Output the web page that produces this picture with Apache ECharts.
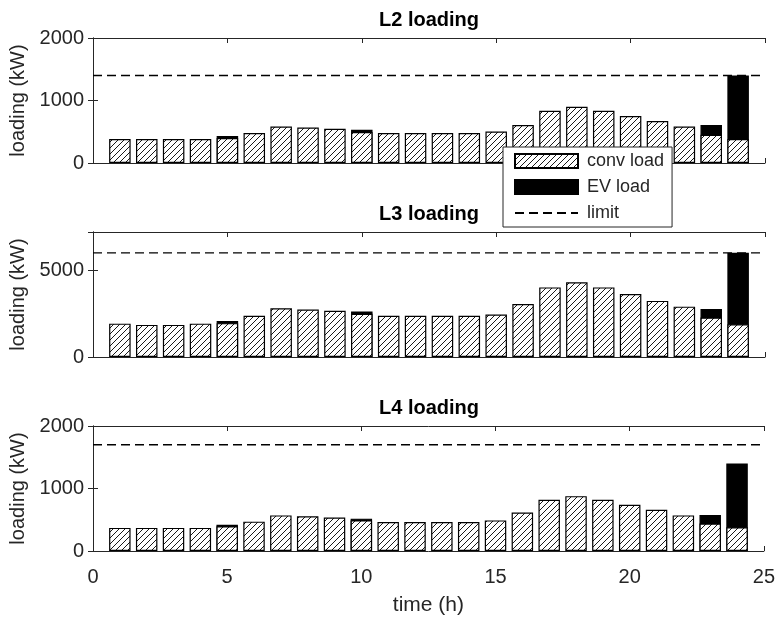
<!DOCTYPE html>
<html>
<head>
<meta charset="utf-8">
<title>Feeder loading</title>
<script src="https://cdn.jsdelivr.net/npm/echarts@6/dist/echarts.min.js"></script>
<style>
  html, body { margin: 0; padding: 0; background: #ffffff; }
  #chart { width: 778px; height: 620px; }
</style>
</head>
<body>
<div id="chart"></div>
<script>
// Hourly loading per feeder (kW): conventional load with EV charging on top
const hours = [1, 2, 3, 4, 5, 6, 7, 8, 9, 10, 11, 12, 13, 14, 15, 16, 17, 18, 19, 20, 21, 22, 23, 24];

const l2Conv = [383, 383, 383, 383, 399, 479, 585, 569, 548, 495, 479, 479, 479, 479, 505, 606, 835, 899, 835, 750, 670, 585, 452, 383];
const l2EV   = [0, 0, 0, 0, 32, 0, 0, 0, 0, 37, 0, 0, 0, 0, 0, 0, 0, 0, 0, 0, 0, 0, 154, 1017];
const l2Limit = 1400;

const l3Conv = [1920, 1850, 1850, 1920, 1950, 2370, 2810, 2730, 2660, 2490, 2370, 2370, 2370, 2370, 2450, 3050, 4010, 4300, 4010, 3630, 3230, 2900, 2270, 1890];
const l3EV   = [0, 0, 0, 0, 130, 0, 0, 0, 0, 130, 0, 0, 0, 0, 0, 0, 0, 0, 0, 0, 0, 0, 500, 4110];
const l3Limit = 6000;

const l4Conv = [370, 370, 370, 370, 395, 470, 570, 555, 535, 490, 465, 465, 465, 465, 490, 615, 820, 878, 820, 740, 660, 570, 440, 380];
const l4EV   = [0, 0, 0, 0, 25, 0, 0, 0, 0, 28, 0, 0, 0, 0, 0, 0, 0, 0, 0, 0, 0, 0, 137, 1020];
const l4Limit = 1700;

const panelTitles = ['L2 loading', 'L3 loading', 'L4 loading'];
const yMax = [2000, 7200, 2000];
const yStep = [1000, 5000, 1000];
const xMin = 0, xMax = 25, xStep = 5;

const panels = [
  { conv: l2Conv, ev: l2EV, limit: l2Limit },
  { conv: l3Conv, ev: l3EV, limit: l3Limit },
  { conv: l4Conv, ev: l4EV, limit: l4Limit }
];

const FONT = "'Liberation Sans', Arial, Helvetica, sans-serif";
const AXIS_COLOR = '#262626';

// diagonal hatch tile used as the fill of the conventional-load bars
function hatchTile() {
  const s = 6;
  const c = document.createElement('canvas');
  c.width = s; c.height = s;
  const g = c.getContext('2d');
  g.fillStyle = '#ffffff';
  g.fillRect(0, 0, s, s);
  g.strokeStyle = '#1a1a1a';
  g.lineWidth = 1;
  g.beginPath();
  g.moveTo(-1, s + 1); g.lineTo(s + 1, -1);
  g.moveTo(-1, 1); g.lineTo(1, -1);
  g.moveTo(s - 1, s + 1); g.lineTo(s + 1, s - 1);
  g.stroke();
  return c;
}
const hatchFill = { image: hatchTile(), repeat: 'repeat' };

const gridTops = [38, 232, 426];
const grids = gridTops.map(t => ({ left: 93, right: 13, top: t, height: 125, containLabel: false }));

const titles = panelTitles.map((txt, i) => ({
  text: txt,
  left: 429,
  top: gridTops[i] - 28,
  padding: 0,
  textAlign: 'center',
  textStyle: { fontFamily: FONT, fontSize: 20, fontWeight: 'bold', color: '#000' }
}));

const plainNumber = v => String(v);

const xAxes = [];
const yAxes = [];
panels.forEach((p, i) => {
  const lastPanel = i === panels.length - 1;
  const common = {
    gridIndex: i, type: 'value', min: xMin, max: xMax, interval: xStep,
    axisLine: { show: true, onZero: false, lineStyle: { color: AXIS_COLOR, width: 1 } },
    axisTick: { show: true, inside: true, length: 5, lineStyle: { color: AXIS_COLOR } },
    splitLine: { show: false }
  };
  xAxes.push(Object.assign({}, common, {
    position: 'bottom',
    name: lastPanel ? 'time (h)' : '',
    nameLocation: 'middle',
    nameGap: 44,
    nameTextStyle: { fontFamily: FONT, fontSize: 21, color: AXIS_COLOR },
    axisLabel: { show: lastPanel, margin: 16, fontFamily: FONT, fontSize: 20, color: AXIS_COLOR, formatter: plainNumber }
  }));
  xAxes.push(Object.assign({}, common, {
    position: 'top',
    axisLabel: { show: false }
  }));

  const yCommon = {
    gridIndex: i, type: 'value', min: 0, max: yMax[i], interval: yStep[i],
    axisLine: { show: true, lineStyle: { color: AXIS_COLOR, width: 1 } },
    axisTick: { show: true, inside: true, length: 5, lineStyle: { color: AXIS_COLOR } },
    splitLine: { show: false }
  };
  yAxes.push(Object.assign({}, yCommon, {
    position: 'left',
    name: 'loading (kW)',
    nameLocation: 'middle',
    nameGap: 54,
    nameTextStyle: { fontFamily: FONT, fontSize: 20, color: AXIS_COLOR },
    axisLabel: {
      margin: 9, fontFamily: FONT, fontSize: 20, color: AXIS_COLOR,
      formatter: plainNumber,
      showMaxLabel: yMax[i] % yStep[i] === 0
    }
  }));
  yAxes.push(Object.assign({}, yCommon, {
    position: 'right',
    axisLabel: { show: false }
  }));
});

// total height (conv + EV) drawn in black, conventional part overlaid with hatching
const series = [];
panels.forEach((p, i) => {
  series.push({
    name: 'EV load', type: 'bar',
    xAxisIndex: 2 * i, yAxisIndex: 2 * i,
    barWidth: '80%', barGap: '-100%',
    itemStyle: { color: '#000', borderColor: '#000', borderWidth: 1.2 },
    emphasis: { disabled: true },
    data: hours.map((h, k) => [h, p.ev[k] > 0 ? p.conv[k] + p.ev[k] : '-'])
  });
  series.push({
    name: 'conv load', type: 'bar',
    xAxisIndex: 2 * i, yAxisIndex: 2 * i,
    barWidth: '80%', barGap: '-100%',
    itemStyle: { color: hatchFill, borderColor: '#000', borderWidth: 1.2 },
    emphasis: { disabled: true },
    data: hours.map((h, k) => [h, p.conv[k]])
  });
  series.push({
    name: 'limit', type: 'line',
    xAxisIndex: 2 * i, yAxisIndex: 2 * i,
    symbol: 'none', silent: true,
    itemStyle: { color: '#000' },
    lineStyle: { color: '#000', width: 1.3, type: [9, 5] },
    data: [[xMin, p.limit], [xMax, p.limit]]
  });
});

const chart = echarts.init(document.getElementById('chart'), null, { renderer: 'canvas' });
chart.setOption({
  animation: false,
  backgroundColor: '#ffffff',
  textStyle: { fontFamily: FONT },
  title: titles,
  grid: grids,
  xAxis: xAxes,
  yAxis: yAxes,
  legend: {
    data: [
      { name: 'conv load', icon: 'rect' },
      { name: 'EV load', icon: 'rect' },
      { name: 'limit', itemStyle: { opacity: 0 } }
    ],
    orient: 'vertical',
    left: 503, top: 147,
    padding: [5, 8, 5, 11],
    itemWidth: 63, itemHeight: 14, itemGap: 8,
    borderColor: AXIS_COLOR, borderWidth: 1,
    backgroundColor: '#ffffff',
    selectedMode: false,
    textStyle: { fontFamily: FONT, fontSize: 18, color: AXIS_COLOR, padding: [0, 0, 0, 4] }
  },
  series: series
});
</script>
</body>
</html>
